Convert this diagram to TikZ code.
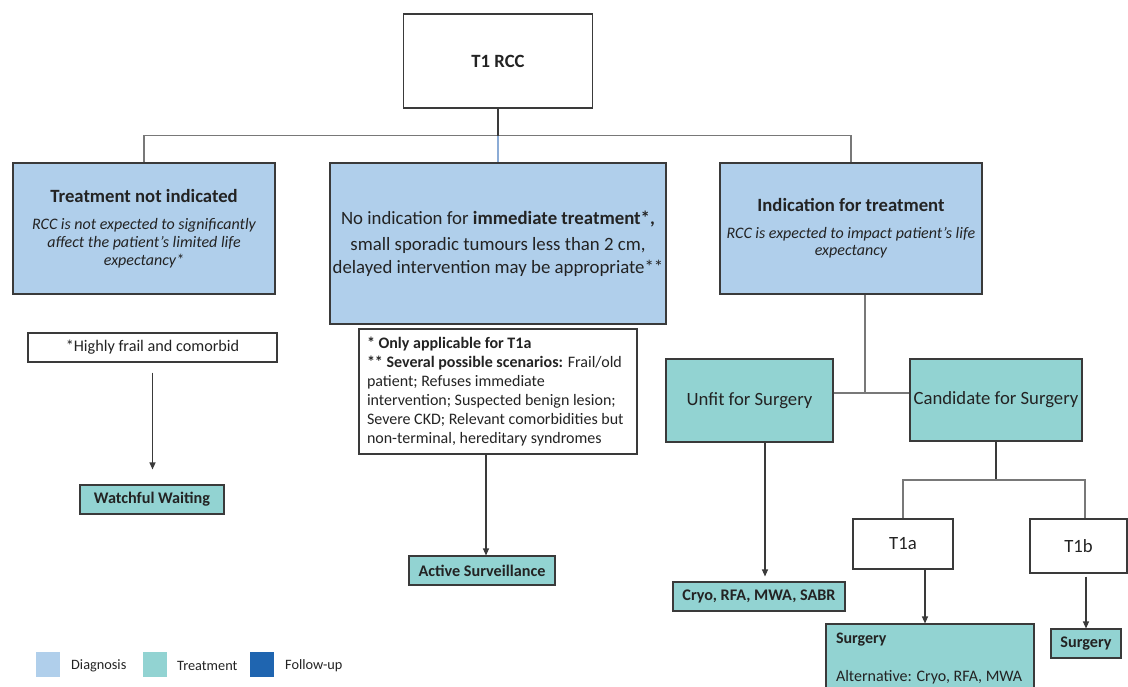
\documentclass[tikz,border=0pt]{standalone}
\usepackage{fontspec}
\setmainfont{Carlito}
\usetikzlibrary{arrows.meta}
\definecolor{diag}{RGB}{176,207,235}
\definecolor{treat}{RGB}{146,211,210}
\definecolor{follow}{RGB}{31,101,176}
\definecolor{edge}{RGB}{58,58,58}
\definecolor{conn}{RGB}{120,120,120}
\definecolor{bluel}{RGB}{140,172,214}
\definecolor{txt}{RGB}{35,35,35}
\tikzset{
  box/.style={draw=edge, line width=1.1pt, rectangle, inner sep=0pt, text=txt, align=center},
  diagbox/.style={box, fill=diag},
  treatbox/.style={box, fill=treat},
  plainbox/.style={box, fill=white},
  conline/.style={draw=conn, line width=1.2pt},
  darkline/.style={draw=edge, line width=1.1pt},
  arr/.style={draw=edge, line width=1.1pt, -{Triangle[length=7pt,width=6pt]}},
  legsq/.style={rectangle, minimum width=24pt, minimum height=25pt, inner sep=0pt},
  legtxt/.style={anchor=west, inner sep=0pt, text=txt, font=\fontsize{14.3}{16}\selectfont}
}
\newcommand{\fsBig}{\fontsize{18.7}{22}\selectfont}
\newcommand{\fsLeaf}{\fontsize{16.2}{19}\selectfont}
\begin{document}
\begin{tikzpicture}[x=1pt,y=-1pt]
\useasboundingbox (0,0) rectangle (1128,686);
% top
\node[plainbox, minimum width=189pt, minimum height=94pt, font=\fsBig] (rcc) at (498,61) {\textbf{T1 RCC}};
% level 2
\node[diagbox, minimum width=262pt, minimum height=131pt, font=\fontsize{16}{18}\selectfont\itshape] (tni) at (144,228.5)
  {{\fsBig\upshape\bfseries Treatment not indicated}\\[9pt]
   RCC is not expected to significantly\\
   affect the patient’s limited life\\
   expectancy*};
\node[diagbox, minimum width=336pt, minimum height=161pt, font=\fontsize{18.8}{23}\selectfont] (noind) at (498,243.5)
  {No indication for \textbf{immediate treatment*,}\\[3pt]
   small sporadic tumours less than 2 cm,\\
   delayed intervention may be appropriate**};
\node[diagbox, minimum width=262pt, minimum height=131pt, font=\fontsize{16}{17}\selectfont\itshape] (ind) at (851,228.5)
  {{\fsBig\upshape\bfseries Indication for treatment}\\[10pt]
   RCC is expected to impact patient’s life\\
   expectancy};
% level 3
\node[plainbox, minimum width=249pt, minimum height=29pt, font=\fsLeaf] (frail) at (152.5,347.5)
  {*Highly frail and comorbid};
\node[plainbox, minimum width=278pt, minimum height=125pt, align=left] (note) at (498,391.5)
  {\begin{minipage}{262pt}\fontsize{16}{19}\selectfont\raggedright
   \textbf{* Only applicable for T1a}\\
   \textbf{** Several possible scenarios:} Frail/old\\
   patient; Refuses immediate\\
   intervention; Suspected benign lesion;\\
   Severe CKD; Relevant comorbidities but\\
   non-terminal, hereditary syndromes\end{minipage}};
\node[treatbox, minimum width=167pt, minimum height=83pt, font=\fsBig] (unfit) at (749.5,400.5) {Unfit for Surgery};
\node[treatbox, minimum width=172pt, minimum height=82pt, font=\fsBig] (cand) at (996,400) {Candidate for Surgery};
% leaves
\node[treatbox, minimum width=144pt, minimum height=29pt, font=\fsLeaf] (ww) at (152,499.5) {\textbf{Watchful Waiting}};
\node[treatbox, minimum width=146pt, minimum height=29pt, font=\fsLeaf] (as) at (482,570.5) {\textbf{Active Surveillance}};
\node[treatbox, minimum width=172pt, minimum height=29pt, font=\fsLeaf] (cryo) at (759,596.5) {\textbf{Cryo, RFA, MWA, SABR}};
\node[plainbox, minimum width=100pt, minimum height=50pt, font=\fsBig] (t1a) at (903,544) {T1a};
\node[plainbox, minimum width=97pt, minimum height=54pt, font=\fsBig] (t1b) at (1078.5,546) {T1b};
\node[treatbox, minimum width=208pt, minimum height=70pt] (surgA) at (930,659)
  {\begin{minipage}{188pt}\fontsize{16}{19}\selectfont\raggedright
   \textbf{Surgery}\\[19pt]
   Alternative: Cryo, RFA, MWA\end{minipage}};
\node[treatbox, minimum width=70pt, minimum height=29pt, font=\fsLeaf] (surgB) at (1086,643.5) {\textbf{Surgery}};
% connectors top
\coordinate (bus) at (498,136);
\draw[conline] (tni.north) -- ++(0,-27) -| (ind.north);
\draw[darkline] (rcc.south) -- (bus);
\draw[draw=bluel, line width=1.1pt] (bus) -- (noind.north);
% indication to unfit/candidate
\coordinate (j) at (865,393);
\draw[conline] (ind.south -| j) -- (j);
\draw[conline] (unfit.east |- j) -- (cand.west |- j);
% candidate to T1a/T1b
\coordinate (k) at (996,480);
\coordinate (kb) at (1085,480);
\draw[darkline] (cand.south) -- (k);
\draw[conline] (t1a.north) -- (t1a.north |- k) -- (kb) -- (kb |- t1b.north);
% arrows
\draw[arr, shorten <=10pt, shorten >=15pt] (frail.south) -- (frail.south |- ww.north);
\draw[arr] ([xshift=-12pt]note.south) -- ([xshift=-12pt]note.south |- as.north);
\draw[arr, shorten >=5pt] ([xshift=15.5pt]unfit.south) -- ([xshift=15.5pt]unfit.south |- cryo.north);
\draw[arr] ([xshift=22pt]t1a.south) -- ([xshift=22pt]t1a.south |- surgA.north);
\draw[arr, shorten <=3pt] (t1b.south -| surgB.north) -- (surgB.north);
% legend
\node[legsq, fill=diag] (lg1) at (48,664.5) {};
\node[legtxt] (lt1) at (71,666) {Diagnosis};
\node[legsq, fill=treat] (lg2) at (154.5,664.5) {};
\node[legtxt] (lt2) at (177,666) {Treatment};
\node[legsq, fill=follow] (lg3) at (261.5,664.5) {};
\node[legtxt] (lt3) at (285,666) {Follow-up};
\end{tikzpicture}
\end{document}
